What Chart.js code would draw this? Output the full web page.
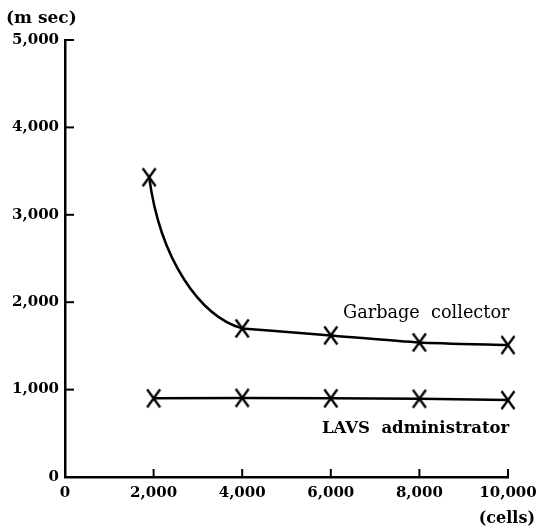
<!DOCTYPE html>
<html>
<head>
<meta charset="utf-8">
<script src="https://cdn.jsdelivr.net/npm/chart.js@4"></script>
<style>
  html, body { margin: 0; padding: 0; background: #fff; }
  #wrap { width: 536px; height: 531px; }
</style>
</head>
<body>
<div id="wrap"><canvas id="chart"></canvas></div>
<script>
const gcCells = [1900, 4000, 6000, 8000, 10000];
const gcTime = [3430, 1700, 1620, 1540, 1510];
const lavsCells = [2000, 4000, 6000, 8000, 10000];
const lavsTime = [900, 905, 900, 895, 880];
const xTicks = [0, 2000, 4000, 6000, 8000, 10000];
const yTicks = [0, 1000, 2000, 3000, 4000, 5000];

const tickFont = { family: 'DejaVu Serif', size: 15, weight: 'bold' };

function fmt(v) {
    return v.toLocaleString('en-US');
}

// tall narrow "X" like the printed marks
function makeCross() {
    const c = document.createElement('canvas');
    c.width = 16; c.height = 21;
    const g = c.getContext('2d');
    g.strokeStyle = '#000';
    g.lineWidth = 2.3;
    g.beginPath();
    g.moveTo(1.5, 1.5); g.lineTo(14.5, 19.5);
    g.moveTo(14.5, 1.5); g.lineTo(1.5, 19.5);
    g.stroke();
    return c;
}
const crossMark = makeCross();

// the first garbage segment is a hand drawn bow: steep at the top, flat at 4,000
const bow = {
    id: 'bow',
    beforeDatasetsDraw(chart) {
        const meta = chart.getDatasetMeta(0);
        meta.dataset.updateControlPoints(chart.chartArea);
        const p0 = meta.data[0], p1 = meta.data[1], p2 = meta.data[2];
        p0.cp2x = p0.x + (p1.x - p0.x) * 0.12;
        p0.cp2y = p0.y + (p1.y - p0.y) * 0.55;
        p1.cp1x = p1.x - (p1.x - p0.x) * 0.45;
        p1.cp1y = p1.y - (p1.y - p0.y) * 0.08;
        p1.cp2x = p1.x + (p2.x - p1.x) * 0.33;
        p1.cp2y = p1.y + (p2.y - p1.y) * 0.33;
    }
};

// inward tick marks + free text labels
const decor = {
    id: 'decor',
    afterDraw(chart) {
        const ctx = chart.ctx;
        const xs = chart.scales.x, ys = chart.scales.y;
        const left = xs.left, bottom = ys.bottom;
        ctx.save();
        ctx.strokeStyle = '#000';
        ctx.lineWidth = 2;
        yTicks.slice(1).forEach(v => {
            const py = ys.getPixelForValue(v);
            ctx.beginPath(); ctx.moveTo(left, py); ctx.lineTo(left + 9, py); ctx.stroke();
        });
        xTicks.slice(1).forEach(v => {
            const px = xs.getPixelForValue(v);
            ctx.beginPath(); ctx.moveTo(px, bottom); ctx.lineTo(px, bottom - 8); ctx.stroke();
        });
        ctx.fillStyle = '#000';
        ctx.textBaseline = 'middle';
        ctx.font = 'bold 17px "DejaVu Serif"';
        ctx.textAlign = 'left';
        ctx.fillText('(m sec)', 6, 19);
        ctx.font = 'bold 16px "DejaVu Serif"';
        ctx.textAlign = 'right';
        ctx.fillText('(cells)', 535, 519);
        ctx.textAlign = 'left';
        ctx.font = '17.7px "DejaVu Serif"';
        ctx.fillText('Garbage  collector', 343, 313);
        ctx.font = 'bold 16.5px "DejaVu Serif"';
        ctx.fillText('LAVS  administrator', 322, 429);
        ctx.restore();
    }
};

new Chart(document.getElementById('chart'), {
    type: 'line',
    data: {
        datasets: [
            {
                label: 'Garbage collector',
                data: gcCells.map((c, i) => ({ x: c, y: gcTime[i] })),
                borderColor: '#000',
                borderWidth: 2.5,
                tension: 0.2,
                clip: false,
                pointStyle: crossMark,
                pointRadius: 8
            },
            {
                label: 'LAVS administrator',
                data: lavsCells.map((c, i) => ({ x: c, y: lavsTime[i] })),
                borderColor: '#000',
                borderWidth: 2.5,
                tension: 0,
                clip: false,
                pointStyle: crossMark,
                pointRadius: 8
            }
        ]
    },
    options: {
        responsive: true,
        maintainAspectRatio: false,
        animation: false,
        layout: { padding: { left: 0, right: 28, top: 40, bottom: 0 } },
        plugins: { legend: { display: false }, tooltip: { enabled: false } },
        scales: {
            x: {
                type: 'linear',
                min: 0, max: 10000,
                afterFit(scale) { scale.height = 54; scale.paddingLeft = 0; scale.paddingRight = 0; },
                afterBuildTicks(scale) { scale.ticks = xTicks.map(v => ({ value: v })); },
                grid: { display: false, drawTicks: false },
                border: { display: true, color: '#000', width: 2.5 },
                ticks: { color: '#000', font: tickFont, padding: 7, maxRotation: 0, callback: v => fmt(v) }
            },
            y: {
                type: 'linear',
                min: 0, max: 5000,
                afterFit(scale) { scale.width = 65; scale.paddingTop = 0; scale.paddingBottom = 0; },
                afterBuildTicks(scale) { scale.ticks = yTicks.map(v => ({ value: v })); },
                grid: { display: false, drawTicks: false },
                border: { display: true, color: '#000', width: 2.5 },
                ticks: { color: '#000', font: tickFont, padding: 6, callback: v => fmt(v) }
            }
        }
    },
    plugins: [bow, decor]
});
</script>
</body>
</html>
